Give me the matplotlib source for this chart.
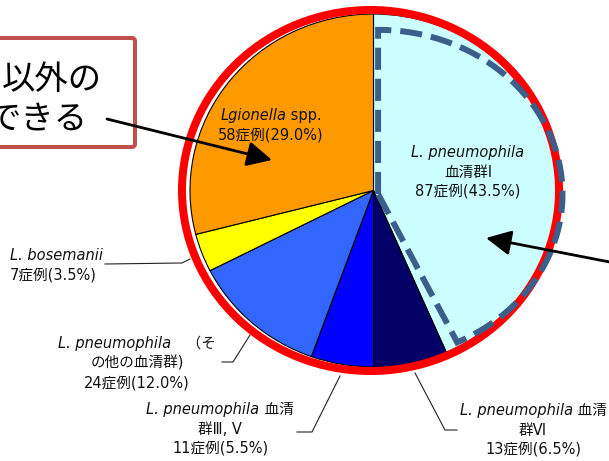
import numpy as np
import matplotlib.pyplot as plt
from matplotlib.patches import Ellipse, FancyBboxPatch
from matplotlib.offsetbox import TextArea, HPacker, VPacker, AnnotationBbox

W, H = 609, 461

# 症例数（12時から時計回り）
sp_latin = ["L. pneumophila", "L. pneumophila", "L. pneumophila",
            "L. pneumophila", "L. bosemanii", "Lgionella"]
sp_rest = ["血清群Ⅰ", " 血清群Ⅵ", " 血清群Ⅲ, Ⅴ", "　（その他の血清群)", "", " spp."]
cases = [87, 13, 11, 24, 7, 58]
colors = ["#CCFFFF", "#000066", "#0000FF", "#3366FF", "#FFFF00", "#FF9900"]

total = sum(cases)
pct = [c / total * 100 for c in cases]
count_txt = [f"{c}症例({p:.1f}%)" for c, p in zip(cases, pct)]

fam = ["DejaVu Sans", "Noto Sans CJK JP"]
FS = 10.5

fig = plt.figure(figsize=(W / 100, H / 100), dpi=100)

# pie (slightly wider than tall, like the original)
pax = fig.add_axes([190 / W, 1 - 367 / H, 367 / W, 353 / H])
wedges, _ = pax.pie(cases, colors=colors, startangle=90, counterclock=False,
                    wedgeprops=dict(edgecolor="black", linewidth=0.8))
for w in wedges:
    w.set_clip_on(False)
pax.set_aspect("auto")
pax.set_xlim(-1, 1)
pax.set_ylim(-1, 1)

# red ring round the whole pie
ring = Ellipse((-3 / 183.5, 0), 2 * 188.5 / 183.5, 2 * 180.5 / 176.5, fill=False,
               ec="#FF0000", lw=8 * 0.72, clip_on=False, zorder=4)
pax.add_patch(ring)

# dashed outline of the serogroup 1 slice
cx, cy = 0.025, -0.02
t = np.linspace(np.pi / 2, np.deg2rad(-64.6), 120)
xs = np.concatenate([[cx], cx + 1.005 * np.cos(t), [cx]])
ys = np.concatenate([[cy], cy + 0.93 * np.sin(t), [cy]])
pax.plot(xs, ys, color="#3A5F8B", lw=4.3, ls=(0, (3.7, 1.5)),
         dash_joinstyle="miter", dash_capstyle="butt", clip_on=False, zorder=5)

# overlay in pixel coords for callout box, arrows and labels
ov = fig.add_axes([0, 0, 1, 1], zorder=5)
ov.set_xlim(0, W)
ov.set_ylim(H, 0)
ov.axis("off")

box = FancyBboxPatch((-20, 38), 155, 109, boxstyle="round,pad=0,rounding_size=3",
                     fc="white", ec="#C0504D", lw=4 * 0.72)
ov.add_patch(box)
ov.text(2, 80, "以外の", fontsize=24, family=fam, va="center", ha="left")
ov.text(-13, 119, "できる", fontsize=24, family=fam, va="center", ha="left")

arrow = dict(arrowstyle="-|>,head_length=0.8,head_width=0.4", color="black",
             lw=2, mutation_scale=19, shrinkA=0, shrinkB=0)
ov.annotate("", xy=(272, 160), xytext=(107, 119), arrowprops=arrow)
ov.annotate("", xy=(486, 238), xytext=(620, 264), arrowprops=arrow)


def label(lines, x, y, ha="center"):
    rows = []
    for line in lines:
        parts = [TextArea(s, textprops=dict(fontsize=FS, family=fam, color="#111111",
                                            style="italic" if it else "normal"))
                 for s, it in line if s]
        rows.append(HPacker(children=parts, align="baseline", pad=0, sep=0))
    vb = VPacker(children=rows, align="left" if ha == "left" else "center", pad=0, sep=3.2)
    ab = AnnotationBbox(vb, (x, y), xycoords="data", frameon=False, pad=0,
                        box_alignment=(0 if ha == "left" else 0.5, 0.5))
    ov.add_artist(ab)


label([[(sp_latin[0], True)], [(sp_rest[0], False)], [(count_txt[0], False)]], 468, 172)
label([[(sp_latin[5], True), (sp_rest[5], False)], [(count_txt[5], False)]], 271, 125)
label([[(sp_latin[4], True)], [(count_txt[4], False)]], 10, 265, ha="left")
label([[(sp_latin[3], True), (sp_rest[3][:3], False)], [(sp_rest[3][3:], False)],
       [(count_txt[3], False)]], 137, 363)
label([[(sp_latin[2], True), (sp_rest[2][:3], False)], [(sp_rest[2][3:], False)],
       [(count_txt[2], False)]], 220, 429)
label([[(sp_latin[1], True), (sp_rest[1][:3], False)], [(sp_rest[1][3:], False)],
       [(count_txt[1], False)]], 533, 430)

# leader lines
lead = dict(color="#222222", lw=0.8)
ov.plot([105, 182, 190], [264, 263, 259], **lead)
ov.plot([222, 233, 250], [362, 362, 335], **lead)
ov.plot([297, 312, 340], [432, 432, 376], **lead)
ov.plot([415, 445, 457], [373, 430, 430], **lead)

fig.savefig("out.png", dpi=100)
